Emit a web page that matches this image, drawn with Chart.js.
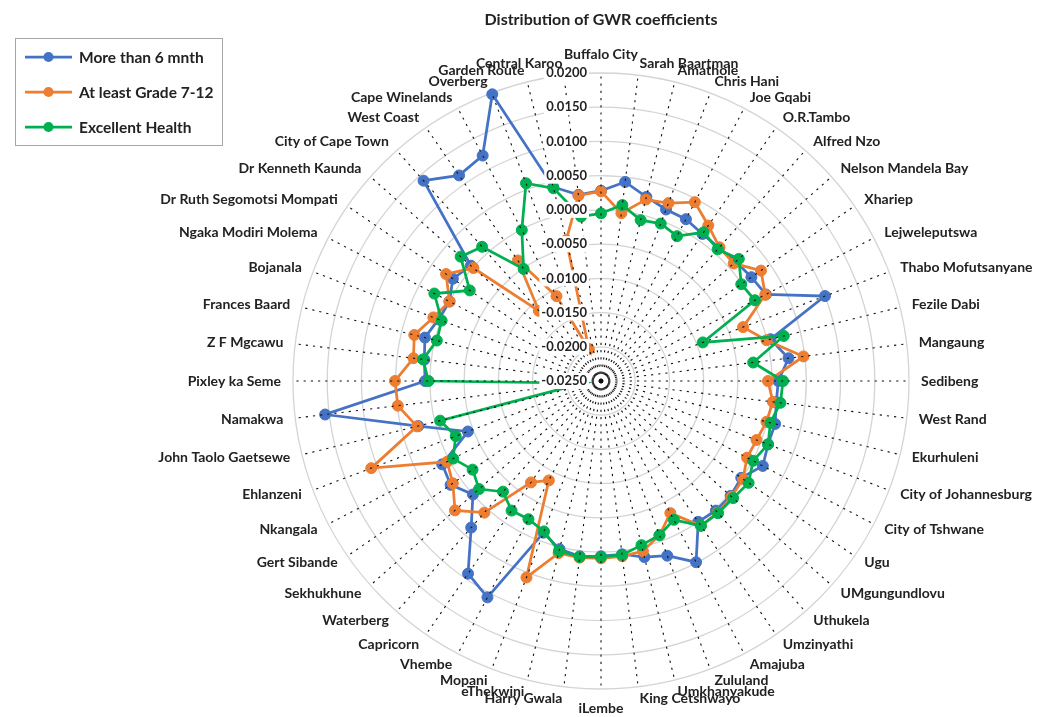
<!DOCTYPE html>
<html>
<head>
<meta charset="utf-8">
<title>Distribution of GWR coefficients</title>
<script src="https://cdn.jsdelivr.net/npm/chart.js@4.4.1/dist/chart.umd.min.js"></script>
<style>
  html, body { margin: 0; padding: 0; background: #ffffff; }
  #wrap { width: 1043px; height: 717px; position: relative; }
</style>
</head>
<body>
<div id="wrap"><canvas id="chart" width="1043" height="717"></canvas></div>
<script>
// District municipalities, clockwise from the top of the radar
const districts = [
  'Buffalo City', 'Sarah Baartman', 'Amathole', 'Chris Hani', 'Joe Gqabi', 'O.R.Tambo',
  'Alfred Nzo', 'Nelson Mandela Bay', 'Xhariep', 'Lejweleputswa', 'Thabo Mofutsanyane',
  'Fezile Dabi', 'Mangaung', 'Sedibeng', 'West Rand', 'Ekurhuleni', 'City of Johannesburg',
  'City of Tshwane', 'Ugu', 'UMgungundlovu', 'Uthukela', 'Umzinyathi', 'Amajuba', 'Zululand',
  'Umkhanyakude', 'King Cetshwayo', 'iLembe', 'Harry Gwala', 'eThekwini', 'Mopani', 'Vhembe',
  'Capricorn', 'Waterberg', 'Sekhukhune', 'Gert Sibande', 'Nkangala', 'Ehlanzeni',
  'John Taolo Gaetsewe', 'Namakwa', 'Pixley ka Seme', 'Z F Mgcawu', 'Frances Baard',
  'Bojanala', 'Ngaka Modiri Molema', 'Dr Ruth Segomotsi Mompati', 'Dr Kenneth Kaunda',
  'City of Cape Town', 'West Coast', 'Cape Winelands', 'Overberg', 'Garden Route', 'Central Karoo'
];

// GWR coefficients per district
const moreThan6Mnth = [
  0.0028, 0.0043, 0.0027, 0.0018, 0.0017, 0.0011, 0.0010, 0.0013, 0.0017, 0.0022,
  0.0100, 0.0005, 0.0026, 0.0009, 0.0008, 0.0012, 0.0011, 0.0017, -0.0001, 0.0003,
  0.0003, 0.0000, 0.0049, 0.0023, 0.0015, 0.0005, 0.0006, 0.0008, 0.0003, -0.0013,
  0.0107, 0.0092, 0.0036, 0.0000, 0.0017, 0.0012, -0.0042, 0.0025, 0.0156, 0.0007,
  0.0010, 0.0015, 0.0004, 0.0000, 0.0013, 0.0004, 0.0141, 0.0115, 0.0122, 0.0198,
  0.0042, 0.0024
];
const atLeastGrade7to12 = [
  0.0027, -0.0003, 0.0023, 0.0028, 0.0045, 0.0026, 0.0011, 0.0009, 0.0034, 0.0021,
  -0.0028, -0.0001, 0.0048, -0.0006, 0.0003, -0.0001, -0.0007, -0.0009, 0.0002, 0.0005,
  0.0007, 0.0007, -0.0032, -0.0009, 0.0006, 0.0008, 0.0009, 0.0010, 0.0009, 0.0057,
  -0.0086, -0.0070, 0.0007, 0.0035, 0.0013, 0.0004, 0.0109, 0.0027, 0.0049, 0.0051,
  0.0026, 0.0031, 0.0012, 0.0000, 0.0025, -0.0001, -0.0113, -0.0036, -0.0110, -0.0200,
  -0.0038, 0.0023
];
const excellentHealth = [
  -0.0005, 0.0009, -0.0008, -0.0004, -0.0011, 0.0014, 0.0007, 0.0019, -0.0001, 0.0004,
  -0.0091, 0.0025, -0.0026, 0.0016, 0.0014, 0.0005, 0.0011, 0.0001, 0.0012, 0.0008,
  0.0008, 0.0007, -0.0021, -0.0009, -0.0003, 0.0006, 0.0007, 0.0009, 0.0006, -0.0015,
  -0.0022, -0.0020, -0.0034, -0.0012, -0.0022, -0.0006, -0.0023, -0.0008, -0.0224, 0.0002,
  0.0012, -0.0003, -0.0001, 0.0025, -0.0017, 0.0024, 0.0012, -0.0051, -0.0001, 0.0059,
  0.0040, -0.0008
];

// Radial axis tick values
const radialTicks = [-0.025, -0.02, -0.015, -0.01, -0.005, 0, 0.005, 0.01, 0.015, 0.02];

const seriesNames = ['More than 6 mnth', 'At least Grade 7-12', 'Excellent Health'];
const seriesColors = ['#4472C4', '#ED7D31', '#00B050'];

const TEXT = '#222222';
const FONT = 'Lato, "Liberation Sans", sans-serif';

// Draws the dotted spokes, axis values, district names, title and legend
const radarDecor = {
  id: 'radarDecor',
  afterDatasetsDraw(chart) {
    const s = chart.scales.r;
    const ctx = chart.ctx;
    const n = chart.data.labels.length;

    // dotted spokes on top of the series
    ctx.save();
    ctx.strokeStyle = '#111111';
    ctx.lineWidth = 1.1;
    ctx.setLineDash([2.2, 5]);
    for (let i = 0; i < n; i++) {
      const p = s.getPointPosition(i, s.drawingArea);
      ctx.beginPath();
      ctx.moveTo(s.xCenter, s.yCenter);
      ctx.lineTo(p.x, p.y);
      ctx.stroke();
    }
    ctx.restore();

    // value labels along the vertical axis, on a white backdrop
    ctx.save();
    ctx.font = 'bold 13px ' + FONT;
    ctx.textAlign = 'right';
    ctx.textBaseline = 'middle';
    s.ticks.forEach(t => {
      const label = t.value.toFixed(4);
      const y = s.yCenter - s.getDistanceFromCenterForValue(t.value);
      const x = s.xCenter - 14;
      const w = ctx.measureText(label).width;
      ctx.fillStyle = '#ffffff';
      ctx.fillRect(x - w - 2, y - 8, w + 4, 16);
      ctx.fillStyle = TEXT;
      ctx.fillText(label, x, y);
    });
    ctx.restore();
  },
  afterDraw(chart) {
    const s = chart.scales.r;
    const ctx = chart.ctx;
    const labels = chart.data.labels;
    const n = labels.length;

    // district names around the outer ring
    ctx.save();
    ctx.font = 'bold 14px ' + FONT;
    ctx.fillStyle = TEXT;
    for (let i = 0; i < n; i++) {
      const p = s.getPointPosition(i, s.drawingArea + 12);
      if (i === 0) {
        ctx.textAlign = 'center'; ctx.textBaseline = 'bottom';
      } else if (i * 2 === n) {
        ctx.textAlign = 'center'; ctx.textBaseline = 'top';
      } else {
        ctx.textAlign = i * 2 < n ? 'left' : 'right';
        ctx.textBaseline = 'middle';
      }
      ctx.fillText(labels[i], p.x, p.y);
    }
    ctx.restore();

    // title
    ctx.save();
    ctx.font = 'bold 16px ' + FONT;
    ctx.fillStyle = TEXT;
    ctx.textAlign = 'center';
    ctx.textBaseline = 'middle';
    ctx.fillText('Distribution of GWR coefficients', s.xCenter, 20);
    ctx.restore();

    // legend
    ctx.save();
    ctx.strokeStyle = '#a6a6a6';
    ctx.lineWidth = 1;
    ctx.strokeRect(15.5, 38.5, 207, 107);
    ctx.font = 'bold 15.5px ' + FONT;
    ctx.textAlign = 'left';
    ctx.textBaseline = 'middle';
    chart.data.datasets.forEach((ds, k) => {
      const y = 57 + k * 35;
      ctx.strokeStyle = ds.borderColor;
      ctx.lineWidth = 2.75;
      ctx.beginPath(); ctx.moveTo(25, y); ctx.lineTo(72, y); ctx.stroke();
      ctx.fillStyle = ds.pointBackgroundColor;
      ctx.beginPath(); ctx.arc(48.5, y, 5, 0, Math.PI * 2); ctx.fill();
      ctx.fillStyle = TEXT;
      ctx.fillText(ds.label, 79, y + 0.5);
    });
    ctx.restore();
  }
};

const seriesData = [moreThan6Mnth, atLeastGrade7to12, excellentHealth];

new Chart(document.getElementById('chart'), {
  type: 'radar',
  data: {
    labels: districts,
    datasets: seriesData.map((d, k) => ({
      label: seriesNames[k],
      data: d,
      borderColor: seriesColors[k],
      backgroundColor: seriesColors[k],
      pointBackgroundColor: seriesColors[k],
      pointBorderColor: seriesColors[k],
      pointBorderWidth: 1,
      pointRadius: 5.5,
      borderWidth: 2.75,
      fill: false,
      clip: false,
      order: 3 - k
    }))
  },
  options: {
    responsive: false,
    animation: false,
    devicePixelRatio: 1,
    layout: { padding: { left: 293, right: 134, top: 73, bottom: 28 } },
    elements: { line: { tension: 0 } },
    plugins: {
      legend: { display: false },
      title: { display: false },
      tooltip: { enabled: false }
    },
    scales: {
      r: {
        min: -0.025,
        max: 0.02,
        beginAtZero: false,
        afterBuildTicks: scale => { scale.ticks = radialTicks.map(v => ({ value: v })); },
        ticks: { display: false, stepSize: 0.005 },
        grid: { circular: true, color: '#d4d4d4', lineWidth: 1.3 },
        angleLines: { display: false },
        pointLabels: { display: false }
      }
    }
  },
  plugins: [radarDecor]
});
</script>
</body>
</html>
